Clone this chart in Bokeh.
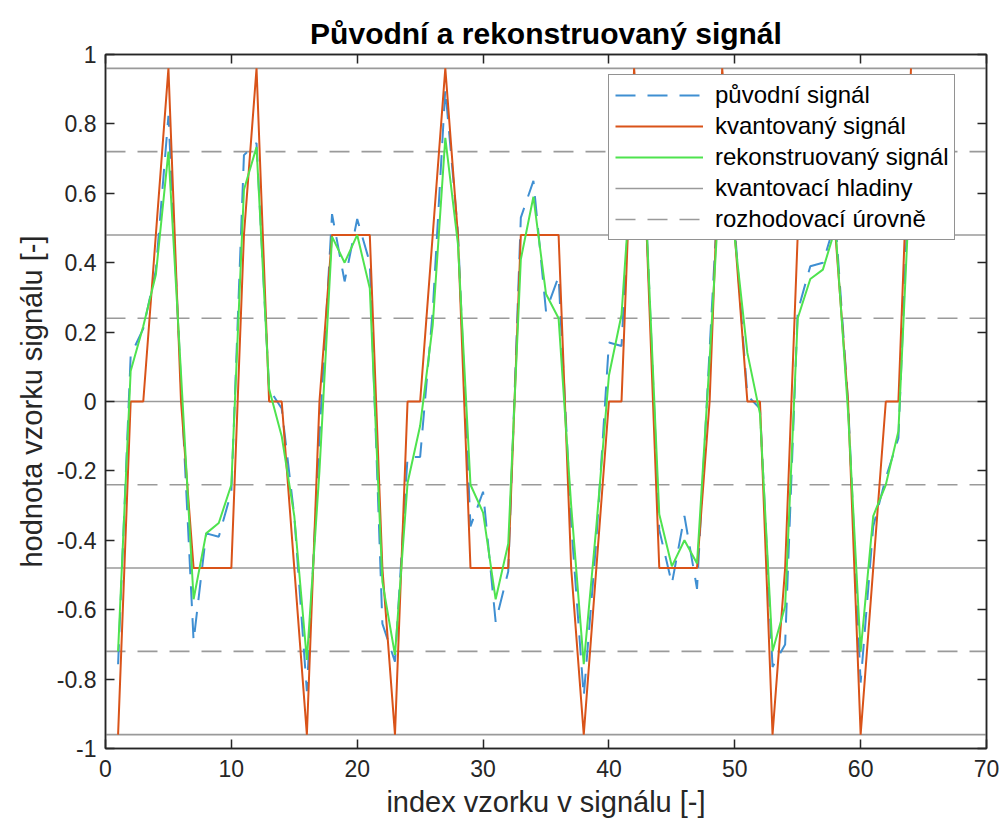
from bokeh.plotting import figure
from bokeh.models import FixedTicker, LinearAxis, Range1d, Legend, LegendItem
from bokeh.embed import file_html
from bokeh.resources import INLINE

idx = list(range(1, 65))
original = [-0.757, 0.133, 0.21, 0.378, 0.823, 0.05, -0.69, -0.38, -0.39, -0.26,
            0.71, 0.745, 0.036, -0.02, -0.33, -0.835, -0.10, 0.54, 0.346, 0.526,
            0.40, -0.64, -0.75, -0.16, -0.16, 0.26, 0.90, 0.49, -0.36, -0.26,
            -0.635, -0.49, 0.53, 0.636, 0.26, 0.36, -0.35, -0.85, -0.40, 0.17,
            0.16, 0.85, 0.50, -0.37, -0.525, -0.33, -0.54, 0.15, 0.82, 0.50,
            0.017, -0.02, -0.765, -0.70, 0.26, 0.39, 0.40, 0.52, 0.0, -0.81,
            -0.36, -0.22, -0.106, 0.80]
quantized = [-0.96, 0, 0, 0.48, 0.96, 0, -0.48, -0.48, -0.48, -0.48,
             0.48, 0.96, 0, 0, -0.48, -0.96, 0, 0.48, 0.48, 0.48,
             0.48, -0.48, -0.96, 0, 0, 0.48, 0.96, 0.48, -0.48, -0.48,
             -0.48, -0.48, 0.48, 0.48, 0.48, 0.48, -0.48, -0.96, -0.48, 0,
             0, 0.96, 0.48, -0.48, -0.48, -0.48, -0.48, 0, 0.96, 0.48,
             0, 0, -0.96, -0.48, 0.48, 0.48, 0.48, 0.48, 0, -0.96,
             -0.48, 0, 0, 0.96]
reconstructed = [-0.72, 0.088, 0.217, 0.365, 0.72, 0.08, -0.57, -0.38, -0.35, -0.24,
                 0.61, 0.733, 0.036, -0.10, -0.33, -0.745, -0.20, 0.475, 0.40, 0.48,
                 0.326, -0.52, -0.73, -0.235, -0.07, 0.22, 0.76, 0.455, -0.24, -0.32,
                 -0.57, -0.41, 0.41, 0.59, 0.31, 0.24, -0.30, -0.757, -0.36, 0.075,
                 0.25, 0.78, 0.50, -0.325, -0.475, -0.40, -0.467, 0.12, 0.75, 0.47,
                 0.14, -0.035, -0.72, -0.59, 0.24, 0.353, 0.38, 0.50, -0.03, -0.72,
                 -0.33, -0.24, -0.086, 0.70]
q_levels = [-0.96, -0.48, 0.0, 0.48, 0.96]
d_levels = [-0.72, -0.24, 0.24, 0.72]
x_span = [0, 70]
x_ticks = [0, 10, 20, 30, 40, 50, 60, 70]
y_ticks = [-1, -0.8, -0.6, -0.4, -0.2, 0, 0.2, 0.4, 0.6, 0.8, 1]
y_tick_labels = ["-1", "-0.8", "-0.6", "-0.4", "-0.2", "0", "0.2", "0.4", "0.6", "0.8", "1"]

FONT = "Liberation Sans"
TXT = "#262626"

p = figure(width=1000, height=828, x_range=Range1d(0, 70), y_range=Range1d(-1, 1),
           output_backend="svg", toolbar_location=None,
           min_border_left=105, min_border_right=14, min_border_top=54, min_border_bottom=80)
p.xgrid.visible = False
p.ygrid.visible = False
p.outline_line_color = TXT
p.outline_line_width = 1.5

p.title.text = "Původní a rekonstruovaný signál"
p.title.align = "center"
p.title.text_font = FONT
p.title.text_font_size = "30px"
p.title.text_font_style = "bold"
p.title.text_color = "black"
p.title.standoff = 10

def style_axis(ax, labels=True):
    ax.major_tick_in = 9
    ax.major_tick_out = 0
    ax.minor_tick_line_color = None
    ax.axis_line_color = TXT
    ax.axis_line_width = 1.5
    ax.major_tick_line_color = TXT
    ax.major_tick_line_width = 1.5
    ax.major_label_text_font = FONT
    ax.major_label_text_font_size = "23px" if labels else "0px"
    ax.major_label_text_color = TXT
    ax.axis_label_text_font = FONT
    ax.axis_label_text_font_size = "29px"
    ax.axis_label_text_font_style = "normal"
    ax.axis_label_text_color = TXT

xax = p.xaxis[0]
xax.ticker = FixedTicker(ticks=x_ticks)
xax.axis_label = "index vzorku v signálu [-]"
style_axis(xax)
xax.major_label_standoff = 11
xax.axis_label_standoff = 6

yax = p.yaxis[0]
yax.ticker = FixedTicker(ticks=y_ticks)
yax.major_label_overrides = {t: l for t, l in zip(y_ticks, y_tick_labels)}
yax.axis_label = "hodnota vzorku signálu [-]"
style_axis(yax)
yax.major_label_standoff = 9
yax.axis_label_standoff = 6

top = LinearAxis(ticker=FixedTicker(ticks=x_ticks))
style_axis(top, labels=False)
top.major_label_standoff = 0
top.axis_label_standoff = 0
p.add_layout(top, "above")
right = LinearAxis(ticker=FixedTicker(ticks=y_ticks))
style_axis(right, labels=False)
right.major_label_standoff = 0
right.axis_label_standoff = 0
p.add_layout(right, "right")

GRAY = "#9a9a9a"
r_q = p.multi_line(xs=[x_span] * len(q_levels), ys=[[v, v] for v in q_levels],
                   line_color=GRAY, line_width=1.6)
r_d = p.multi_line(xs=[x_span] * len(d_levels), ys=[[v, v] for v in d_levels],
                   line_color=GRAY, line_width=1.6, line_dash="20 12")

r_o = p.line(idx, original, line_color="#3f8fd2", line_width=2, line_dash="20 12")
r_k = p.line(idx, quantized, line_color="#D95319", line_width=2)
r_r = p.line(idx, reconstructed, line_color="#4fe34f", line_width=2)

legend = Legend(items=[
    LegendItem(label="původní signál", renderers=[r_o]),
    LegendItem(label="kvantovaný signál", renderers=[r_k]),
    LegendItem(label="rekonstruovaný signál", renderers=[r_r]),
    LegendItem(label="kvantovací hladiny", renderers=[r_q]),
    LegendItem(label="rozhodovací úrovně", renderers=[r_d]),
], location=(503, 508))
legend.label_text_font = FONT
legend.label_text_font_size = "24px"
legend.label_text_color = "black"
legend.glyph_width = 88
legend.glyph_height = 24
legend.label_height = 24
legend.spacing = 3
legend.padding = 6
legend.margin = 0
legend.label_standoff = 12
legend.border_line_color = TXT
legend.border_line_width = 1.2
legend.background_fill_color = "white"
legend.background_fill_alpha = 1
p.add_layout(legend)

open("out.html", "w").write(file_html(p, INLINE))
